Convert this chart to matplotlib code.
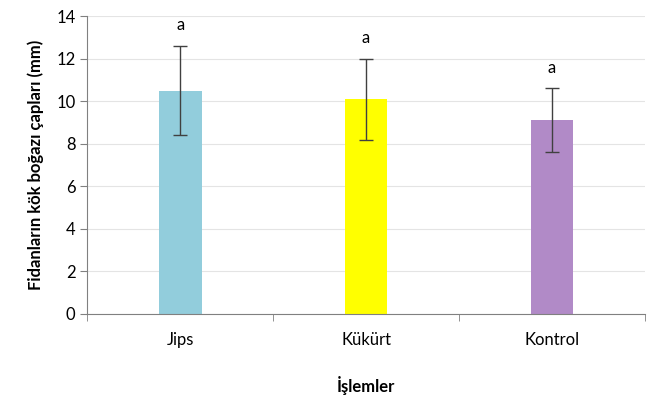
import matplotlib.pyplot as plt
import numpy as np

# data
treatments = ['Jips', 'Kükürt', 'Kontrol']
means = [10.5, 10.1, 9.1]
errors = [2.1, 1.9, 1.5]
letters = ['a', 'a', 'a']
colors = ['#92cddc', '#ffff00', '#b18ac7']

plt.rcParams['font.family'] = ['Lato', 'DejaVu Sans']

fig = plt.figure(figsize=(6.56, 4.03), dpi=100)
ax = fig.add_axes([0.133, 0.221, 0.850, 0.739])

x = np.arange(len(treatments))
ax.bar(x, means, width=0.23, color=colors, zorder=2)
ax.errorbar(x, means, yerr=errors, fmt='none', ecolor='#404040',
            elinewidth=1, capsize=5, capthick=1, zorder=3)

for xi, m, e, lab in zip(x, means, errors, letters):
	ax.text(xi, m + e + 0.6, lab, ha='center', va='bottom', fontsize=12)

#---- axes ----
ax.set_xlim(-0.5, 2.5)
ax.set_ylim(0, 14)
ax.set_yticks(range(0, 15, 2))
ax.yaxis.grid(True, color='#e4e4e4', linewidth=0.8, zorder=0)
ax.set_axisbelow(True)

ax.set_xticks(x)
ax.set_xticklabels(treatments, fontsize=12)
ax.set_xticks([-0.5, 0.5, 1.5, 2.5], minor=True)
ax.tick_params(axis='x', which='major', length=0, pad=13)
ax.tick_params(axis='x', which='minor', length=5, color='#808080')
ax.tick_params(axis='y', length=5, color='#808080', labelsize=12)

for s in ['top', 'right']:
	ax.spines[s].set_visible(False)
for s in ['left', 'bottom']:
	ax.spines[s].set_color('#808080')

ax.set_ylabel('Fidanların kök boğazı çapları (mm)', fontsize=12,
              fontweight='bold', labelpad=9)
ax.set_xlabel('İşlemler', fontsize=12, fontweight='bold', labelpad=20)

fig.savefig('out.png', dpi=100)
